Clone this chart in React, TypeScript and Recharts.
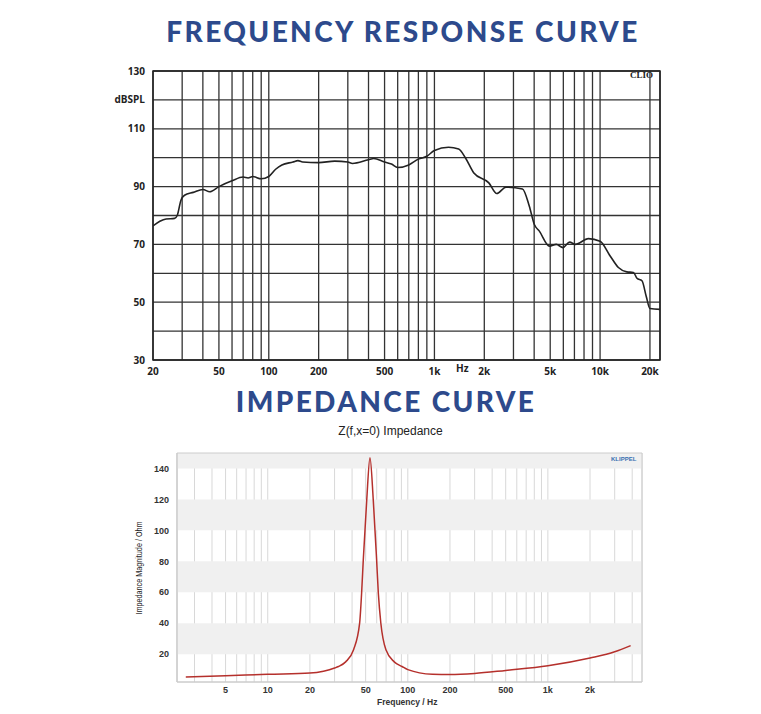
import { LineChart, Line, XAxis, YAxis, CartesianGrid, ReferenceArea } from 'recharts';

// frequency response (Hz, dB SPL)
const frFreq = [20, 22, 24, 27, 28, 29.5, 31, 35, 40, 44, 50, 60, 70, 75, 80, 90, 100, 110, 120, 140, 150, 160, 200, 250, 300, 320, 400, 430, 500, 550, 600, 700, 800, 900, 1000, 1217, 1400, 1540, 1730, 2130, 2380, 2700, 3400, 3740, 4010, 4300, 4950, 5440, 5970, 6550, 7100, 8500, 10000, 11500, 12900, 14500, 15900, 16700, 17900, 19000, 20000, 23000];
const frSpl = [76.4, 78, 78.8, 79, 80, 85.3, 87, 88, 89, 88.2, 90, 92, 93.3, 93, 93.5, 92.7, 93.5, 96, 97.5, 98.5, 99, 98.5, 98.3, 98.8, 98.5, 98, 99.3, 99.7, 98.5, 97.8, 96.6, 97.5, 99.5, 100.5, 102.5, 103.6, 103, 99.9, 94.7, 91.3, 87.6, 89.8, 89.2, 83.2, 76.9, 74.6, 69.4, 70, 68.9, 70.8, 70, 72, 71.1, 66, 62, 60.5, 60.3, 58.3, 57.4, 52, 47.8, 47.5];
const frGrid = [20, 30, 40, 50, 60, 70, 80, 90, 100, 200, 300, 400, 500, 600, 700, 800, 900, 1000, 2000, 3000, 4000, 5000, 6000, 7000, 8000, 9000, 10000, 20000];
const frLabels: Record<number, string> = { 20: '20', 50: '50', 100: '100', 200: '200', 500: '500', 1000: '1k', 2000: '2k', 5000: '5k', 10000: '10k', 20000: '20k' };
const splTicks = [30, 40, 50, 60, 70, 80, 90, 100, 110, 120, 130];

// impedance (Hz, Ohm)
const zFreq = [2.6, 5, 10, 20, 25, 30, 32, 36, 41, 45.3, 46.8, 48.1, 50.9, 53.7, 56.7, 59.9, 61.6, 64.2, 69.8, 80, 91, 100, 150, 200, 300, 500, 1000, 2000, 3000, 3900];
const zOhm = [5.2, 6, 7, 7.8, 9, 11, 12, 15, 22.8, 40, 59.5, 80.8, 119.5, 147, 119.5, 80.8, 59.5, 40, 22.8, 15, 12, 10, 7, 6.8, 7.5, 9.5, 12.5, 17.5, 21.5, 25.5];
const zGrid = [3, 4, 5, 6, 7, 8, 9, 10, 20, 30, 40, 50, 60, 70, 80, 90, 100, 200, 300, 400, 500, 600, 700, 800, 900, 1000, 2000, 3000, 4000];
const zLabels: Record<number, string> = { 5: '5', 10: '10', 20: '20', 50: '50', 100: '100', 200: '200', 500: '500', 1000: '1k', 2000: '2k' };
const zTicks = [20, 40, 60, 80, 100, 120, 140];
const zBands = [[140, 150], [100, 120], [60, 80], [20, 40]];

const frData = frFreq.map((f, i) => ({ f, v: frSpl[i] }));
const zData = zFreq.map((f, i) => ({ f, v: zOhm[i] }));

const titleStyle: React.CSSProperties = {
  position: 'absolute', width: 600, textAlign: 'center', whiteSpace: 'nowrap',
  fontFamily: 'Lato', fontWeight: 900, fontSize: 28, color: '#2d4a8c', letterSpacing: 2.4,
};

export default function App() {
  return (
    <div style={{ position: 'absolute', left: 0, top: 0, width: 761, height: 714, background: '#fff', fontFamily: 'Open Sans' }}>
      <div style={{ ...titleStyle, left: 103, top: 14 }}>FREQUENCY RESPONSE CURVE</div>
      <div style={{ ...titleStyle, left: 86, top: 384 }}>IMPEDANCE CURVE</div>

      <div style={{ position: 'absolute', left: 103, top: 60 }}>
        <LineChart width={570} height={320} data={frData} margin={{ top: 11, right: 13, left: 0, bottom: 0 }}>
          <CartesianGrid stroke="#333" strokeWidth={1.3} />
          <XAxis dataKey="f" type="number" scale="log" domain={[20, 23000]} ticks={frGrid} interval={0}
            tickFormatter={(v) => frLabels[v] ?? ''} tickLine={false} axisLine={false} height={20}
            tick={{ fontSize: 10, fontWeight: 700, fill: '#222' }} allowDataOverflow />
          <YAxis type="number" domain={[30, 130]} ticks={splTicks} interval={0} width={50}
            tickFormatter={(v) => (v === 120 ? 'dBSPL' : (v - 30) % 20 === 0 ? String(v) : '')}
            tickLine={false} axisLine={false} tick={{ fontSize: 10, fontWeight: 700, fill: '#222' }} />
          <ReferenceArea x1={20} x2={23000} y1={30} y2={130} fill="none" stroke="#222" strokeWidth={1.5} />
          <Line type="monotone" dataKey="v" stroke="#222" strokeWidth={1.6} dot={false} isAnimationActive={false} />
        </LineChart>
      </div>
      <div style={{ position: 'absolute', left: 456, top: 361, fontSize: 10, fontWeight: 700, color: '#222' }}>Hz</div>
      <div style={{ position: 'absolute', left: 630, top: 70, fontSize: 9, fontWeight: 700, fontFamily: 'Liberation Serif', color: '#222' }}>CLIO</div>

      <div style={{ position: 'absolute', left: 0, top: 424, width: 761, paddingLeft: 20, boxSizing: 'border-box', textAlign: 'center', fontFamily: 'Liberation Sans', fontSize: 12, color: '#222' }}>Z(f,x=0) Impedance</div>
      <div style={{ position: 'absolute', left: 120, top: 445 }}>
        <LineChart width={530} height={269} data={zData} margin={{ top: 8, right: 8, left: 0, bottom: 16 }}>
          {zBands.map(([a, b]) => (
            <ReferenceArea key={a} y1={a} y2={b} x1={2.25} x2={4700} fill="#f0f0f0" fillOpacity={1} stroke="none" />
          ))}
          <CartesianGrid stroke="#d8d8d8" horizontal={false} />
          <XAxis dataKey="f" type="number" scale="log" domain={[2.25, 4700]} ticks={zGrid} interval={0}
            tickFormatter={(v) => zLabels[v] ?? ''} tickLine={false} axisLine={{ stroke: '#ccc' }} height={16}
            tick={{ fontSize: 9, fontWeight: 700, fill: '#333', fontFamily: 'Liberation Sans', dy: -3 }} allowDataOverflow />
          <YAxis type="number" domain={[2, 150]} ticks={zTicks} interval={0} width={57}
            tickLine={false} axisLine={{ stroke: '#ccc' }} allowDataOverflow
            tick={{ fontSize: 9, fontWeight: 700, fill: '#333', fontFamily: 'Liberation Sans' }} />
          <ReferenceArea x1={2.25} x2={4700} y1={2} y2={150} fill="none" stroke="#ccc" />
          <Line type="monotone" dataKey="v" stroke="#b5302c" strokeWidth={1.5} dot={false} isAnimationActive={false} />
        </LineChart>
      </div>
      <div style={{ position: 'absolute', left: 377, top: 697, fontSize: 8.5, fontWeight: 700, fontFamily: 'Liberation Sans', color: '#333' }}>Frequency / Hz</div>
      <div style={{ position: 'absolute', left: 139, top: 568, transform: 'translate(-50%,-50%) rotate(-90deg) scaleX(0.85)', whiteSpace: 'nowrap', fontSize: 8.5, fontFamily: 'Liberation Sans', color: '#222' }}>Impedance Magnitude / Ohm</div>
      <div style={{ position: 'absolute', left: 611, top: 456, fontSize: 6, fontWeight: 700, fontFamily: 'Liberation Sans', color: '#3a6fb0' }}>KLIPPEL</div>
    </div>
  );
}
